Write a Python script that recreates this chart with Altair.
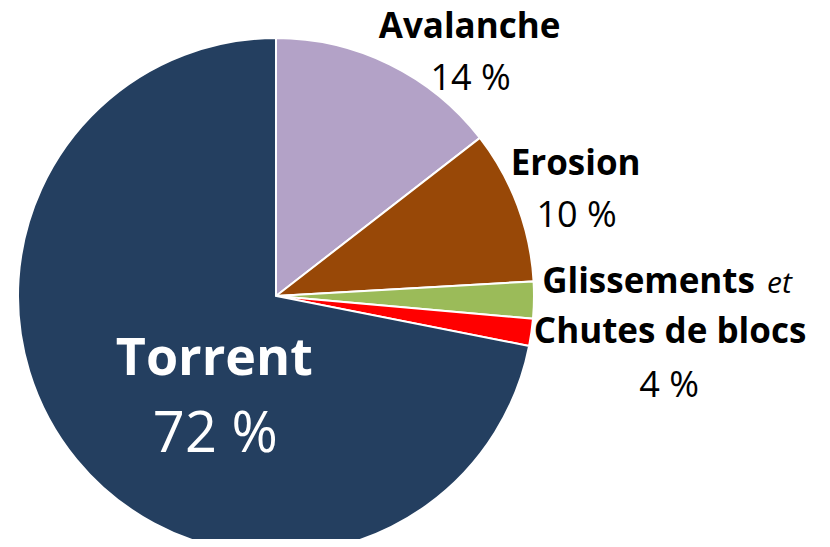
import altair as alt
import pandas as pd

categories = ["Avalanche", "Erosion", "Glissements", "Chutes de blocs", "Torrent"]
values = [14.5, 9.6, 2.3, 1.7, 71.9]
order = [1, 2, 3, 4, 5]
pct_labels = ["14 %", "10 %", "", "4 %", "72 %"]
colors = ["#B3A2C7", "#984807", "#9BBB59", "#FF0000", "#243F60"]

df = pd.DataFrame({"cat": categories, "value": values, "idx": order, "pct": pct_labels})

FONT = "Open Sans"
CX, CY = 268, 288
theta_scale = alt.Scale(domain=[0, 100], range=[0, 6.283185307179586])

base = alt.Chart(df).transform_stack(
    stack="value", as_=["v0", "v1"], groupby=[], sort=[alt.SortField("idx")]
).transform_calculate(mid="(datum.v0 + datum.v1) / 2")

arcs = base.mark_arc(radius=258, stroke="white", strokeWidth=2).encode(
    theta=alt.Theta("v0:Q", scale=theta_scale),
    theta2="v1:Q",
    color=alt.Color("cat:N", scale=alt.Scale(domain=categories, range=colors), legend=None),
    x=alt.value(CX),
    y=alt.value(CY),
)


def label(cat, text, radius, dx, dy, size, bold=True, color="black", align="center",
          italic=False, field=False):
    m = dict(radius=radius, dx=dx, dy=dy, fontSize=size, font=FONT,
             fontWeight="bold" if bold else "normal", color=color, align=align,
             baseline="alphabetic")
    if italic:
        m["fontStyle"] = "italic"
    enc = dict(theta=alt.Theta("mid:Q", scale=theta_scale), x=alt.value(CX), y=alt.value(CY))
    if field:
        enc["text"] = alt.Text("pct:N")
    else:
        enc["text"] = alt.value(text)
    return base.transform_filter(alt.datum.cat == cat).mark_text(**m).encode(**enc)


R = 290
layers = [
    arcs,
    label("Avalanche", "Avalanche", R, 66, 2, 35),
    label("Avalanche", None, R, 67, 54, 36, bold=False, field=True),
    label("Erosion", "Erosion", R, 28, -19, 35),
    label("Erosion", None, R, 29, 33, 36, bold=False, field=True),
    label("Glissements", "Glissements", R, 189, -8, 35, align="right"),
    label("Glissements", "et", R, 201, -8, 30, bold=False, align="left", italic=True),
    label("Chutes de blocs", "Chutes de blocs", R, 107, 6, 35),
    label("Chutes de blocs", None, R, 106, 60, 36, bold=False, field=True),
    label("Torrent", "Torrent", 120, 31, 3, 52, color="white"),
    label("Torrent", None, 120, 32, 80, 56, bold=False, color="white", field=True),
]

chart = alt.layer(*layers).properties(
    width=814, height=531, padding=0, autosize="none"
).configure_view(stroke=None)

chart.save("out.html", embed_options={"renderer": "svg", "actions": False})
